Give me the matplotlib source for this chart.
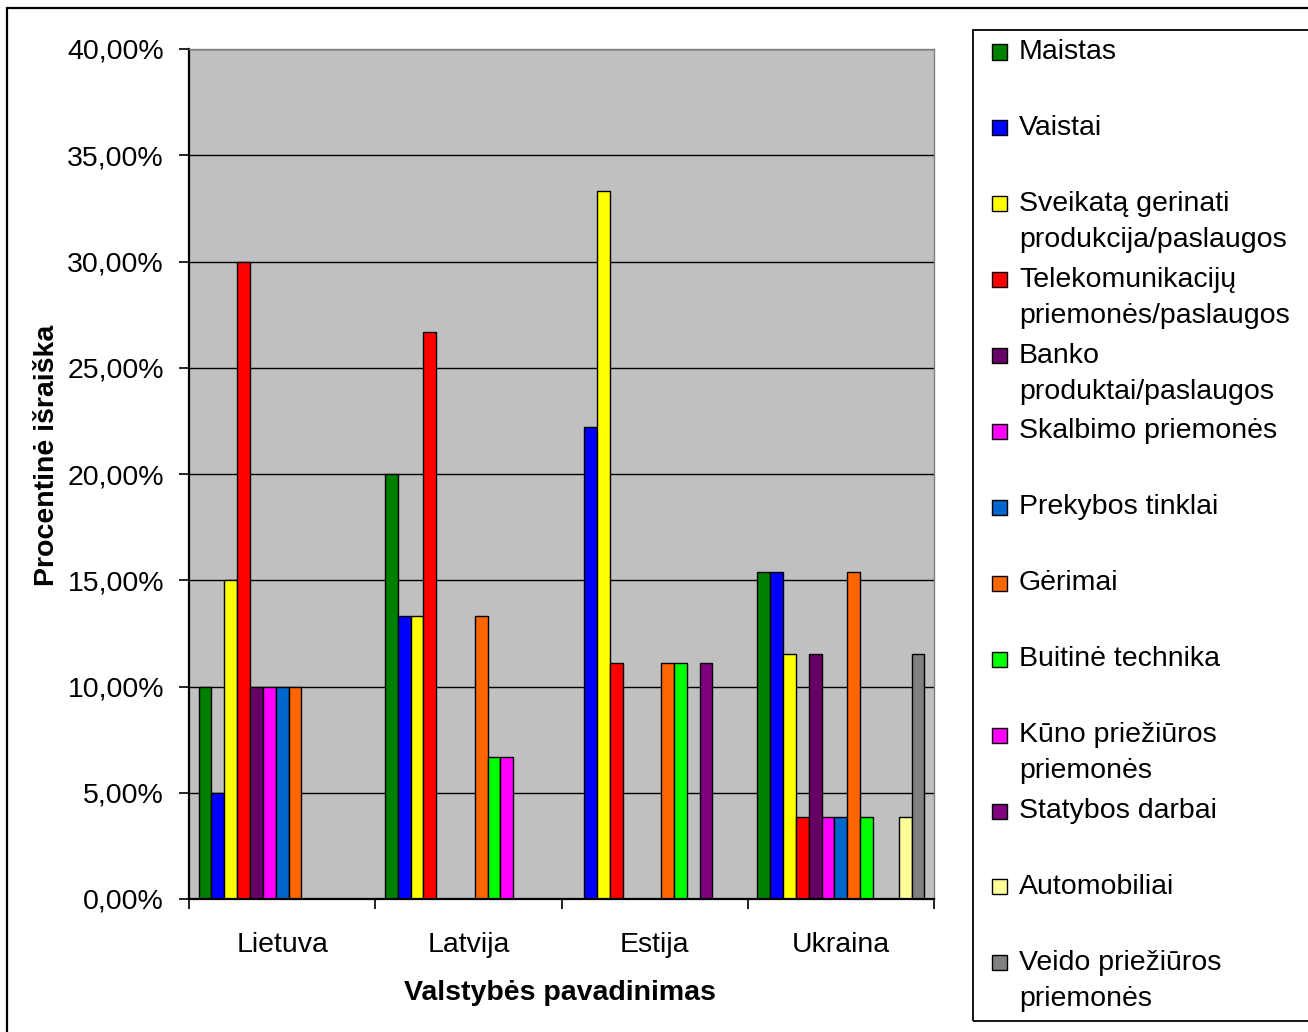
import numpy as np
import matplotlib
matplotlib.use("Agg")
import matplotlib.pyplot as plt
from matplotlib.patches import Rectangle
from matplotlib.ticker import FuncFormatter, FixedLocator

plt.rcParams["font.family"] = ["Liberation Sans", "DejaVu Sans"]

countries = ["Lietuva", "Latvija", "Estija", "Ukraina"]

categories = [
    "Maistas",
    "Vaistai",
    "Sveikatą gerinati\nprodukcija/paslaugos",
    "Telekomunikacijų\npriemonės/paslaugos",
    "Banko\nproduktai/paslaugos",
    "Skalbimo priemonės",
    "Prekybos tinklai",
    "Gėrimai",
    "Buitinė technika",
    "Kūno priežiūros\npriemonės",
    "Statybos darbai",
    "Automobiliai",
    "Veido priežiūros\npriemonės",
]

colors = ["#008000", "#0000FF", "#FFFF00", "#FF0000", "#660066", "#FF00FF",
          "#0066CC", "#FF6600", "#00FF00", "#FF00FF", "#800080", "#FFFF99",
          "#808080"]

# shares per country, one list per category (Lietuva, Latvija, Estija, Ukraina)
maistas = [10.00, 20.00, 0.00, 15.38]
vaistai = [5.00, 13.33, 22.22, 15.38]
sveikata = [15.00, 13.33, 33.33, 11.54]
telekom = [30.00, 26.67, 11.11, 3.85]
bankas = [10.00, 0.00, 0.00, 11.54]
skalbimas = [10.00, 0.00, 0.00, 3.85]
prekyba = [10.00, 0.00, 0.00, 3.85]
gerimai = [10.00, 13.33, 11.11, 15.38]
buitine = [0.00, 6.67, 11.11, 3.85]
kunas = [0.00, 6.67, 0.00, 0.00]
statybos = [0.00, 0.00, 11.11, 0.00]
automobiliai = [0.00, 0.00, 0.00, 3.85]
veidas = [0.00, 0.00, 0.00, 11.54]

series = [maistas, vaistai, sveikata, telekom, bankas, skalbimas, prekyba,
          gerimai, buitine, kunas, statybos, automobiliai, veidas]

FS = 20.5
W, H = 1308, 1032
fig = plt.figure(figsize=(W / 100, H / 100), dpi=100)

# outer chart frame
fig.patches.append(Rectangle((7 / W, -0.05), 1.2, 1 - 8 / H + 0.05,
                             transform=fig.transFigure, fill=False,
                             edgecolor="black", lw=1.6))

ax = fig.add_axes([189 / W, (H - 899) / H, (934 - 189) / W, (899 - 49) / H])
ax.set_facecolor("#C0C0C0")

n = len(series)
w = 1.0 / (n + 1.5)
x = np.arange(len(countries))
for j, vals in enumerate(series):
    vals = np.array(vals)
    keep = vals > 0
    ax.bar((x + (j - (n - 1) / 2) * w)[keep], vals[keep], width=w, color=colors[j],
           edgecolor="black", linewidth=1.0, zorder=3)

ax.set_xlim(-0.5, len(countries) - 0.5)
ax.set_ylim(0, 40)
ax.set_yticks(np.arange(0, 41, 5))
ax.yaxis.set_major_formatter(FuncFormatter(lambda v, p: f"{v:.2f}".replace(".", ",") + "%"))
ax.grid(axis="y", color="black", lw=1.0, zorder=1)
ax.set_axisbelow(True)

ax.set_xticks(x)
ax.set_xticklabels(countries)
ax.xaxis.set_minor_locator(FixedLocator(np.arange(-0.5, len(countries), 1.0)))
ax.tick_params(axis="x", which="major", length=0, pad=24, labelsize=FS)
ax.tick_params(axis="x", which="minor", length=7, width=1.2, direction="out")
ax.tick_params(axis="y", length=7, width=1.2, direction="out", pad=11, labelsize=FS)

for s in ["top", "right"]:
    ax.spines[s].set_color("#808080")
    ax.spines[s].set_linewidth(1.0)
for s in ["left", "bottom"]:
    ax.spines[s].set_color("black")
    ax.spines[s].set_linewidth(1.6)
ax.spines["bottom"].set_zorder(4)

fig.text(560 / W, 1 - 993 / H, "Valstybės pavadinimas", ha="center", va="center",
         fontsize=FS, fontweight="bold")
fig.text(47 / W, 1 - 455 / H, "Procentinė išraiška", ha="center", va="center",
         fontsize=FS, fontweight="bold", rotation=90)

# legend box
fig.patches.append(Rectangle((973 / W, 1 - 1021 / H), 1.0, (1021 - 30) / H,
                             transform=fig.transFigure, fill=False,
                             edgecolor="black", lw=1.3))
slot0, step, line_h = 52, 75.9, 36
for j, label in enumerate(categories):
    yc = slot0 + j * step
    fig.patches.append(Rectangle((992 / W, 1 - (yc + 7.5) / H), 15 / W, 15 / H,
                                 transform=fig.transFigure, facecolor=colors[j],
                                 edgecolor="black", lw=1.0))
    for k, line in enumerate(label.split("\n")):
        fig.text(1019 / W, 1 - (yc + k * line_h) / H, line, ha="left",
                 va="center", fontsize=FS)

fig.savefig("out.png", dpi=100)
